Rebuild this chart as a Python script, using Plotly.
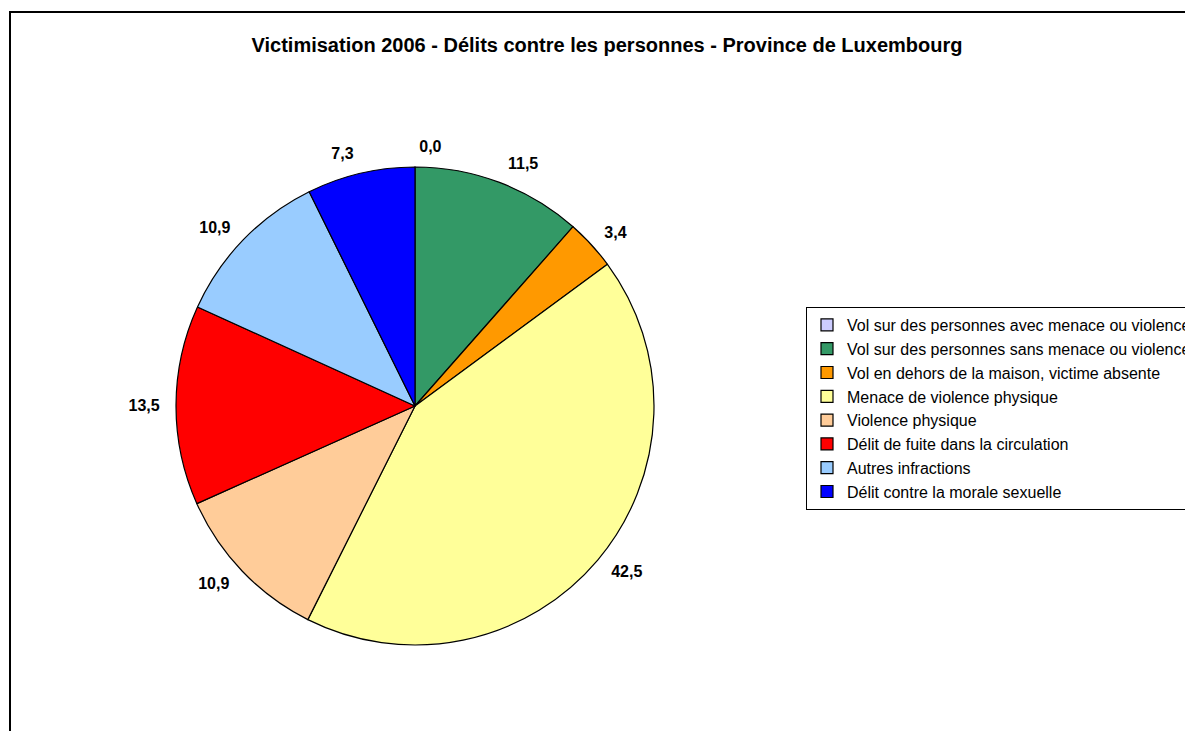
import plotly.graph_objects as go

title = "Victimisation 2006 - Délits contre les personnes - Province de Luxembourg"
categories = [
    "Vol sur des personnes avec menace ou violence",
    "Vol sur des personnes sans menace ou violence",
    "Vol en dehors de la maison, victime absente",
    "Menace de violence physique",
    "Violence physique",
    "Délit de fuite dans la circulation",
    "Autres infractions",
    "Délit contre la morale sexuelle",
]
values = [0.0, 11.5, 3.4, 42.5, 10.9, 13.5, 10.9, 7.3]
colors = ["#ccccff", "#339966", "#ff9900", "#ffff99",
          "#ffcc99", "#ff0000", "#99ccff", "#0000ff"]
labels_txt = [f"{v:.1f}".replace(".", ",") for v in values]

W, H = 1193, 731
cx, cy, r = 407, 398, 239   # pie centre / radius in px
r_lab = 251                 # invisible pie carrying the labels, a bit wider

fig = go.Figure()
# visible pie
fig.add_trace(go.Pie(
    labels=categories,
    values=values,
    textinfo="none",
    marker=dict(colors=colors, line=dict(color="black", width=1.2)),
    sort=False,
    direction="clockwise",
    rotation=0,
    showlegend=True,
    hoverinfo="label+value",
    domain=dict(x=[(cx - r) / W, (cx + r) / W], y=[1 - (cy + r) / H, 1 - (cy - r) / H]),
))
# transparent pie just for the data labels, so they sit further out
fig.add_trace(go.Pie(
    labels=categories,
    values=values,
    text=labels_txt,
    textinfo="text",
    textposition="outside",
    textfont=dict(family="Liberation Sans, Arial", size=16, color="black", weight="bold"),
    marker=dict(colors=["rgba(0,0,0,0)"] * len(values), line=dict(width=0)),
    sort=False,
    direction="clockwise",
    rotation=0,
    showlegend=False,
    hoverinfo="skip",
    domain=dict(x=[(cx - r_lab) / W, (cx + r_lab) / W],
                y=[1 - (cy + r_lab) / H, 1 - (cy - r_lab) / H]),
))

fig.update_layout(
    width=W, height=H,
    margin=dict(l=0, r=0, t=0, b=0),
    paper_bgcolor="white",
    font=dict(family="Liberation Sans, Arial", color="black"),
    title=dict(text=f"<b>{title}</b>", x=599 / W, xanchor="center",
               y=1 - 37 / H, yanchor="middle",
               font=dict(size=20, family="Liberation Sans, Arial")),
    legend=dict(x=798 / W, y=1 - 299 / H, xanchor="left", yanchor="top",
                bordercolor="black", borderwidth=1, bgcolor="white",
                font=dict(size=16, family="Liberation Sans, Arial"),
                itemwidth=30, traceorder="normal"),
    shapes=[dict(type="rect", xref="paper", yref="paper",
                 x0=2 / W, x1=1.05, y0=-0.05, y1=1 - 4 / H,
                 line=dict(color="black", width=2))],
)

fig.write_html("out.html")
